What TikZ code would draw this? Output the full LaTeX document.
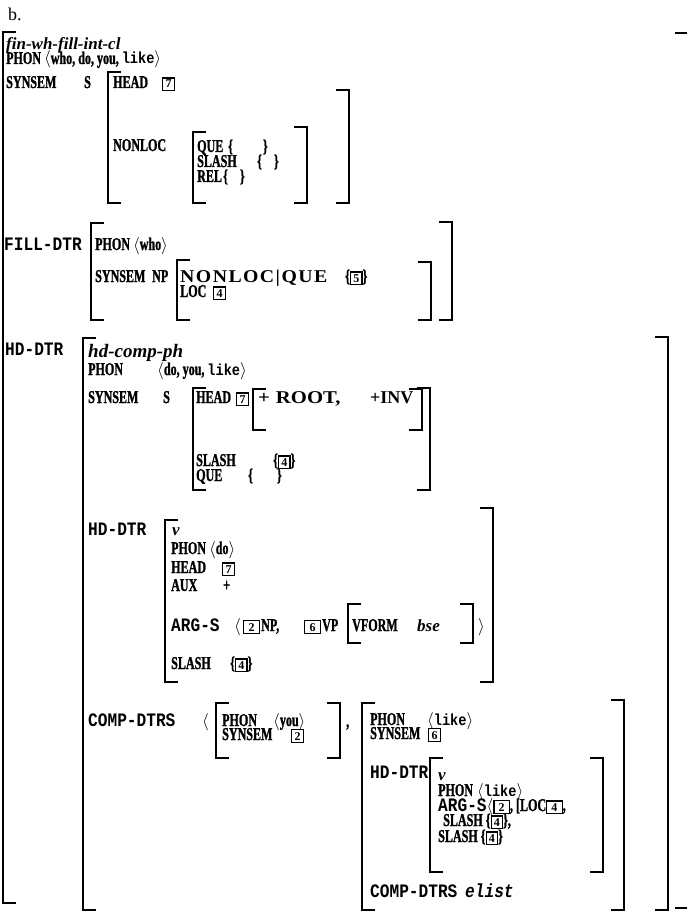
\documentclass[tikz,border=0pt]{standalone}
\usepackage{fontspec}
\newfontfamily\srf[FakeStretch=0.67,FakeBold=1.2]{Liberation Serif Bold}
\newfontfamily\srif{Liberation Serif Bold Italic}
\newfontfamily\mnf[FakeStretch=0.85]{Liberation Mono Bold}
\newfontfamily\mnif[FakeStretch=0.85]{Liberation Mono Bold Italic}
\newfontfamily\dgf{Liberation Serif Bold}
\newfontfamily\wdf[LetterSpace=8,FakeStretch=1.1]{Liberation Serif Bold}
\newfontfamily\wrf[FakeStretch=1.15]{Liberation Serif Bold}
\newfontfamily\rmf{Liberation Serif}
\newcommand\Sr{\srf\fontsize{18}{18}\selectfont}
\newcommand\Mn{\mnf\fontsize{19}{19}\selectfont}
\newcommand\Ml{\mnf\fontsize{16}{16}\selectfont}
\newcommand\Mi{\mnif\fontsize{19}{19}\selectfont}
\newcommand\Si{\srif\fontsize{17}{17}\selectfont}
\newcommand\Sb{\srif\fontsize{19}{19}\selectfont}
\newcommand\Dg{\dgf\fontsize{18}{18}\selectfont}
\newcommand\Wd{\wdf\fontsize{18}{18}\selectfont}
\newcommand\Wr{\wrf\fontsize{18}{18}\selectfont}
\newcommand\tg[1]{{\setlength\fboxsep{1.6pt}\setlength\fboxrule{1.2pt}\fbox{\dgf\fontsize{12}{12}\selectfont\makebox[7pt]{#1}}}}
\newcommand\tgw[1]{{\setlength\fboxsep{1.6pt}\setlength\fboxrule{1.2pt}\fbox{\dgf\fontsize{12}{12}\selectfont\makebox[11pt]{#1}}}}
\newcommand\avla{$\langle$}
\newcommand\avra{$\rangle$}
\newcommand\avL[3]{\draw[brk] ({#1+13},#2) -- (#1,#2) -- (#1,#3) -- ({#1+13},#3);}
\newcommand\avR[3]{\draw[brk] ({#1-13},#2) -- (#1,#2) -- (#1,#3) -- ({#1-13},#3);}
\tikzset{
  txt/.style={anchor=base west, inner sep=0pt, font=\Sr},
  mono/.style={txt, font=\Mn},
  brk/.style={line width=1.3pt, line cap=butt, line join=miter}
}
\begin{document}
\begin{tikzpicture}[x=1pt,y=-1pt]
\useasboundingbox (0,0) rectangle (686,912);
% label
\node[txt,font=\rmf\fontsize{18}{18}\selectfont] (b) at (8,21) {b.};
% top level
\node[txt,font=\Si] (type1) at (6,50) {fin-wh-fill-int-cl};
\node[txt] (phon1) at (6,64) {PHON \avla who, do, you, {\Ml like}\avra};
\node[txt] (ss1) at (6,88) {SYNSEM};
\node[txt] (s1) at (84,88) {S};
\node[txt] (head1) at (113,88) {HEAD};
\node[txt] (t7a) at (162,88) {\tg{7}};
\node[txt] (nonloc1) at (113,151) {NONLOC};
\node[txt] (que1) at (197,152) {QUE};
\node[txt] (que1v) at (228,152) {\{\hspace{30pt}\}};
\node[txt] (slash1) at (197,167) {SLASH};
\node[txt] (slash1v) at (257,167) {\{\hspace{12pt}\}};
\node[txt] (rel1) at (197,182) {REL};
\node[txt] (rel1v) at (223,182) {\{\hspace{12pt}\}};
% FILL-DTR
\node[mono] (fill) at (4,250) {FILL-DTR};
\node[txt] (phon2) at (95,250) {PHON \avla who\avra};
\node[txt] (ss2) at (95,282) {SYNSEM};
\node[txt] (np2) at (152,282) {NP};
\node[txt,font=\Wd] (nlq2) at (180,282) {NONLOC|QUE};
\node[txt] (nlq2v) at (345,282) {\{\tg{5}\}};
\node[txt] (loc2) at (180,297) {LOC};
\node[txt] (t4a) at (213,297) {\tg{4}};
% HD-DTR
\node[mono] (hd1) at (5,355) {HD-DTR};
\node[txt,font=\Sb] (type3) at (88,357) {hd-comp-ph};
\node[txt] (phon3) at (88,375) {PHON};
\node[txt] (phon3v) at (157,375) {\avla do, you, {\Ml like}\avra};
\node[txt] (ss3) at (88,403) {SYNSEM};
\node[txt] (s3) at (163,403) {S};
\node[txt] (head3) at (196,403) {HEAD};
\node[txt] (t7b) at (236,403) {\tg{7}};
\node[txt,font=\Wr] (root3) at (258,403) {+\hspace{6pt}ROOT,};
\node[txt,font=\Dg] (inv3) at (370,403) {+INV};
\node[txt] (slash3) at (196,466) {SLASH};
\node[txt] (slash3v) at (273,466) {\{\tg{4}\}};
\node[txt] (que3) at (196,481) {QUE};
\node[txt] (que3v) at (248,481) {\{\hspace{24pt}\}};
% inner HD-DTR
\node[mono] (hd2) at (88,535) {HD-DTR};
\node[txt,font=\Si] (v1) at (172,535) {v};
\node[txt] (phon4) at (171,554) {PHON \avla do\avra};
\node[txt] (head4) at (171,573) {HEAD};
\node[txt] (t7c) at (222,573) {\tg{7}};
\node[txt] (aux4) at (171,591) {AUX};
\node[txt] (aux4v) at (223,591) {+};
\node[mono] (args4) at (171,631) {ARG-S};
\node[txt] (lt4) at (234,631) {\avla};
\node[txt] (t2a) at (243,631) {\tgw{2}};
\node[txt] (np4) at (261,631) {NP,};
\node[txt] (t6b) at (304,631) {\tgw{6}};
\node[txt] (vp4) at (322,631) {VP};
\node[txt] (vform4) at (352,631) {VFORM};
\node[txt,font=\Si] (bse4) at (417,631) {bse};
\node[txt] (gt4) at (478,631) {\avra};
\node[txt] (slash4) at (171,669) {SLASH};
\node[txt] (slash4v) at (230,669) {\{\tg{4}\}};
% COMP-DTRS
\node[mono] (cd1) at (88,726) {COMP-DTRS};
\node[txt] (lt5) at (202,726) {\avla};
\node[txt] (phon5) at (222,726) {PHON};
\node[txt] (phon5v) at (273,726) {\avla you\avra};
\node[txt] (ss5) at (222,740) {SYNSEM};
\node[txt] (t2b) at (291,740) {\tg{2}};
\node[txt] (comma5) at (346,727) {,};
\node[txt] (phon6) at (370,725) {PHON};
\node[txt] (phon6v) at (427,725) {\avla{\Ml like}\avra};
\node[txt] (ss6) at (370,739) {SYNSEM};
\node[txt] (t6a) at (428,739) {\tg{6}};
\node[mono] (hd6) at (370,778) {HD-DTR};
\node[txt,font=\Si] (v2) at (438,780) {v};
\node[txt] (phon7) at (438,796) {PHON};
\node[txt] (phon7v) at (477,796) {\avla{\Ml like}\avra};
\node[txt] (args7) at (438,811) {{\Mn ARG-S}\avla\tgw{2}, [LOC\tgw{4},};
\node[txt] (sl7) at (443,826) {SLASH \{\tg{4}\},};
\node[txt] (sl8) at (438,842) {SLASH \{\tg{4}\}};
\node[mono] (cd2) at (370,897) {COMP-DTRS};
\node[txt,font=\Mi] (elist) at (465,897) {elist};
% brackets
\avL{3}{32}{903}  \avR{688}{33}{908}
\avL{108}{72}{203} \avR{349}{90}{203}
\avL{193}{132}{203} \avR{307}{127}{203}
\avL{91}{223}{320} \avR{452}{222}{320}
\avL{177}{260}{320} \avR{431}{262}{320}
\avL{83}{338}{910} \avR{668}{337}{910}
\avL{193}{388}{490} \avR{430}{388}{490}
\avL{253}{389}{430} \avR{422}{389}{430}
\avL{165}{520}{682} \avR{493}{508}{682}
\avL{348}{604}{643} \avR{473}{604}{643}
\avL{216}{703}{758} \avR{340}{703}{758}
\avL{362}{703}{910} \avR{624}{700}{910}
\avL{430}{758}{872} \avR{603}{758}{872}
\end{tikzpicture}
\end{document}
